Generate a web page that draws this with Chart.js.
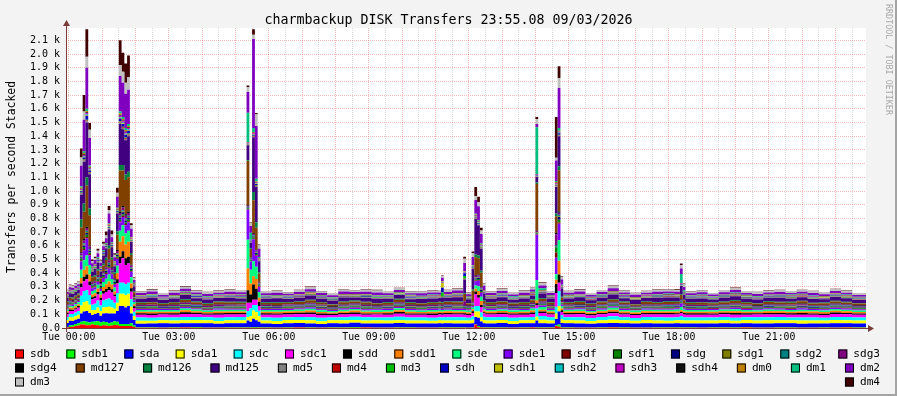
<!DOCTYPE html>
<html>
<head>
<meta charset="utf-8">
<script src="https://cdn.jsdelivr.net/npm/chart.js"></script>
<style>
  html, body { margin: 0; padding: 0; background: #f3f3f3; }
  #wrap { width: 897px; height: 396px; }
</style>
</head>
<body>
<div id="wrap"><canvas id="c" width="897" height="396"></canvas></div>
<script>
// time of each sample, minutes after Tue 00:00 (graph starts Mon 23:55)
const times = [-5,0,5,10,15,20,25,30,35,40,45,50,55,60,65,70,75,80,85,90,95,100,105,110,115,
  120,140,160,180,200,220,240,260,280,300,
  320,325,330,335,340,
  345,365,385,405,425,445,465,485,505,525,545,565,585,605,625,645,665,
  670,675,690,710,715,
  725,730,735,740,745,
  750,770,790,810,830,
  840,845,860,875,880,885,
  890,910,930,950,970,990,1010,1030,1050,1070,1090,
  1100,1105,
  1110,1130,1150,1170,1190,1210,1230,1250,1270,1290,1310,1330,1350,1370,1390,1410,1435];

// transfers per second, one array per device (stack order bottom -> top)
const sdb   = [3,8,10,14,18,25,25,20,20,25,22,20,15,20,18,15,18,22,20,15,15,15,15,15,8, 2,1,2,2,3,2,1,2,2,2, 2,2,2,2,2, 2,1,2,3,2,2,1,2,2,3,2,1,2,2,2,1,2, 2,2,1,2,2, 2,25,5,3,2, 2,2,1,2,3, 2,2,2,15,10,2, 2,1,2,2,3,2,2,1,2,2,2, 2,2, 2,2,1,2,2,3,2,1,2,2,2,1,2,2,3,2,2];
const sdb1  = [4,10,12,15,16,20,25,25,20,20,25,30,25,25,25,20,22,28,25,15,15,15,15,20,10, 3,4,2,3,3,5,3,2,4,3, 3,3,5,5,4, 3,2,4,3,3,2,4,3,5,3,2,3,4,3,2,3,4, 3,3,4,3,2, 3,5,10,5,3, 3,4,2,3,3, 3,3,3,5,15,3, 4,3,2,3,5,3,2,3,4,3,3, 3,3, 3,2,4,3,3,5,2,3,3,4,2,3,3,2,4,3,3];
const sda   = [30,35,30,32,34,60,70,80,70,50,55,60,50,60,65,70,65,55,80,130,130,120,130,70,40, 26,28,30,27,29,28,31,27,28,30, 50,40,60,50,40, 28,27,29,30,28,26,29,28,31,27,28,29,30,27,28,29,28, 28,29,27,28,28, 30,50,60,40,30, 28,30,27,29,28, 50,30,28,45,96,32, 29,28,27,30,28,29,28,31,27,28,29, 28,28, 28,29,27,30,28,27,29,28,30,28,27,29,28,30,27,28,29];
const sda1  = [22,25,24,26,28,60,70,70,60,35,30,40,35,45,45,50,45,35,60,90,90,90,90,50,30, 22,20,23,22,21,24,22,20,23,22, 25,40,60,60,40, 22,21,23,22,24,20,22,23,21,22,24,22,21,23,22,20,23, 22,21,23,22,22, 25,40,45,30,24, 22,23,21,22,24, 28,25,22,40,40,26, 22,23,21,22,24,22,21,23,22,20,22, 24,22, 22,21,23,22,20,23,22,24,21,22,23,21,22,24,22,21,22];
const sdc   = [22,25,26,26,28,70,80,80,70,40,45,50,40,50,55,60,55,45,70,80,80,80,80,55,30, 24,22,20,23,25,22,21,24,22,23, 45,60,40,50,40, 22,24,21,23,22,25,20,22,24,23,21,22,25,22,23,21,22, 22,23,24,22,21, 25,40,40,35,24, 23,22,24,21,22, 60,28,23,50,110,30, 22,24,21,23,25,22,20,22,23,24,22, 30,24, 22,23,21,24,22,20,23,22,25,21,22,23,20,22,24,22,23];
const sdc1  = [20,22,22,22,24,60,70,80,70,40,40,45,40,50,55,60,55,45,70,140,180,140,140,55,28, 20,19,21,20,22,20,18,21,20,19, 60,40,40,40,35, 20,21,19,20,22,20,19,21,20,18,21,20,22,19,20,21,20, 20,21,19,20,20, 25,86,60,40,22, 20,19,21,20,22, 25,22,20,100,60,24, 20,21,19,20,22,20,21,19,20,22,20, 20,20, 20,19,21,20,22,19,20,21,18,20,21,20,19,22,20,21,20];
const sdd   = [10,10,9,10,12,30,35,35,30,15,15,18,15,20,22,25,22,15,30,50,50,50,50,25,12, 10,11,9,10,12,10,9,11,10,10, 90,60,110,80,30, 10,9,11,10,12,10,9,10,11,10,8,10,12,10,9,11,10, 10,11,10,10,9, 12,20,20,15,10, 10,11,9,10,12, 12,10,10,67,60,12, 10,9,11,10,12,10,9,10,11,10,10, 10,10, 10,11,9,10,12,10,9,11,10,10,12,9,10,11,10,9,10];
const sdd1  = [12,14,14,14,14,40,50,60,50,20,22,25,22,30,35,40,35,22,45,110,110,100,110,35,16, 12,13,11,12,14,12,11,13,12,12, 160,80,60,70,30, 12,13,11,12,14,12,10,12,13,12,11,12,14,12,11,13,12, 12,12,13,12,11, 14,20,30,30,13, 12,13,11,12,14, 20,14,12,30,100,14, 12,13,11,12,14,12,11,13,12,12,13, 12,12, 12,11,13,12,14,12,11,12,13,12,11,14,12,13,12,11,12];
const sde   = [12,14,13,14,14,60,70,80,70,25,25,28,25,35,40,50,40,28,55,80,80,80,80,45,16, 12,11,13,12,14,12,11,13,12,12, 210,100,110,90,40, 12,13,11,12,14,12,11,13,12,10,12,13,14,12,11,12,13, 12,12,11,12,13, 14,25,35,30,13, 12,11,13,12,14, 150,20,12,40,150,16, 12,13,11,12,14,12,13,11,12,12,14, 25,14, 12,13,11,12,14,12,11,13,12,12,14,11,12,13,12,11,12];
const sde1  = [8,9,9,9,10,60,70,123,70,20,18,22,18,30,35,45,35,20,50,60,60,60,60,40,12, 8,9,7,8,10,8,7,9,8,8, 220,60,160,80,40, 8,7,9,8,10,8,7,8,9,8,7,9,10,8,7,9,8, 8,9,8,8,7, 10,30,40,30,9, 8,9,7,8,10, 330,10,8,120,120,10, 8,9,7,8,10,8,7,9,8,8,9, 25,10, 8,7,9,8,10,8,7,9,8,8,10,7,8,9,8,7,8];
const sdf   = [4,4,4,4,4,10,12,12,10,6,6,6,6,6,6,8,6,6,8,10,10,10,10,6,5, 4,5,3,4,4,5,4,3,4,4, 4,4,5,5,5, 4,3,5,4,4,5,3,4,4,5,4,3,4,5,4,4,3, 4,4,5,4,4, 4,5,5,5,4, 4,3,5,4,4, 4,4,4,40,10,4, 4,5,3,4,4,5,4,3,4,4,5, 4,4, 4,3,5,4,4,5,3,4,4,5,4,3,4,4,5,4,4];
const sdf1  = [5,5,5,5,5,12,14,15,12,8,8,8,8,8,8,10,8,8,10,10,10,10,10,8,6, 5,6,4,5,5,6,4,5,5,6, 5,5,8,8,6, 5,4,6,5,5,6,4,5,5,6,5,4,6,5,5,4,6, 5,5,4,5,6, 5,8,8,8,5, 5,6,4,5,5, 5,5,5,35,20,5, 5,4,6,5,5,6,4,5,5,6,5, 5,5, 5,6,4,5,5,6,4,5,6,5,4,5,6,5,4,5,5];
const sdg   = [5,5,5,5,5,10,12,14,12,8,8,8,8,8,8,10,8,8,10,15,15,15,15,8,6, 5,4,6,5,5,4,6,5,5,4, 5,5,8,8,6, 5,6,4,5,5,6,4,5,6,5,4,5,5,6,4,5,5, 5,6,5,5,4, 5,8,8,8,5, 5,4,6,5,5, 5,5,5,8,20,5, 5,6,4,5,5,6,4,5,5,6,4, 5,5, 5,4,6,5,5,4,6,5,4,5,6,5,4,5,6,5,5];
const sdg1  = [3,3,3,3,3,5,6,6,5,4,4,4,4,4,4,5,4,4,5,5,5,5,5,4,3, 3,3,2,3,4,3,3,2,3,3, 3,3,4,4,3, 3,2,3,4,3,3,2,3,3,4,3,2,3,3,4,3,3, 3,3,3,3,2, 3,4,4,4,3, 3,3,2,3,4, 3,3,3,4,5,3, 3,2,3,4,3,3,2,3,3,4,3, 3,3, 3,3,2,3,4,3,3,2,3,3,4,3,2,3,3,4,3];
const sdg2  = [4,4,4,4,4,8,10,10,8,6,6,6,6,6,6,8,6,6,8,10,10,10,10,6,5, 4,5,3,4,4,5,3,4,5,4, 4,4,5,5,4, 4,3,5,4,4,5,3,4,4,5,4,3,5,4,4,3,4, 4,4,5,4,4, 4,5,5,5,4, 4,5,3,4,4, 4,4,4,6,10,4, 4,3,5,4,4,5,3,4,4,5,4, 4,4, 4,5,3,4,4,5,3,4,4,5,3,4,5,4,4,3,4];
const sdg3  = [7,8,8,8,8,15,20,20,18,12,12,12,12,14,14,16,14,12,16,20,20,20,20,14,9, 7,8,6,7,9,7,6,8,7,7, 7,7,10,10,8, 7,6,8,7,9,7,6,7,8,7,6,8,9,7,6,8,7, 7,7,8,35,7, 7,10,10,10,8, 7,8,6,7,9, 7,8,7,80,15,8, 7,6,8,7,9,7,6,8,7,7,8, 7,7, 7,8,6,7,9,7,6,8,7,7,9,6,7,8,7,6,7];
const sdg4  = [4,4,4,4,4,8,10,10,8,6,6,6,6,6,6,8,6,6,8,10,10,10,10,6,5, 4,3,5,4,4,3,5,4,4,3, 4,4,5,5,4, 4,5,3,4,4,3,5,4,4,3,5,4,4,3,5,4,4, 4,4,3,4,5, 4,5,5,5,4, 4,3,5,4,4, 4,4,4,10,10,4, 4,5,3,4,4,3,5,4,4,3,4, 4,4, 4,3,5,4,4,3,5,4,4,3,5,4,4,3,4,5,4];
const md127 = [14,15,14,16,14,180,200,300,220,30,28,30,28,40,50,80,55,30,110,300,260,250,250,70,20, 12,14,10,13,16,12,11,15,12,13, 322,60,240,160,60, 12,15,11,13,16,12,10,14,12,15,11,13,17,12,11,14,12, 12,13,15,50,12, 80,130,120,100,14, 12,15,11,13,16, 340,15,12,120,300,20, 12,14,11,13,16,12,10,15,12,14,13, 30,25, 12,14,10,13,15,12,11,14,12,13,16,11,12,14,12,11,13];
const md126 = [5,6,6,6,6,60,60,60,50,10,10,10,10,12,15,20,15,10,25,40,40,40,40,15,7, 5,4,6,5,5,6,4,5,5,6, 5,5,60,40,10, 5,6,4,5,5,6,4,5,6,5,4,5,6,5,4,5,5, 5,5,6,5,4, 10,20,20,15,5, 5,4,6,5,5, 10,5,5,20,30,6, 5,6,4,5,5,6,4,5,5,6,5, 5,5, 5,4,6,5,5,6,4,5,5,6,4,5,6,5,5,4,5];
const md125 = [27,28,27,28,26,180,304,400,250,30,45,50,40,60,70,120,75,45,130,300,260,250,260,80,35, 26,30,22,27,32,24,28,26,30,25, 110,40,400,260,80, 25,29,22,27,31,24,26,30,23,28,32,25,27,22,30,26,28, 35,27,30,100,26, 150,260,220,160,50, 25,30,23,27,29, 40,35,26,195,219,60, 26,30,23,27,32,24,28,25,30,26,27, 60,35, 25,28,22,27,30,24,27,25,29,23,26,28,24,27,25,23,26];
const md5   = [4,4,4,4,4,8,10,10,8,5,5,5,5,5,5,6,5,5,6,10,10,10,10,5,4, 4,5,3,4,4,5,3,4,4,5, 4,4,5,5,4, 4,3,5,4,4,3,5,4,4,5,3,4,4,5,3,4,4, 4,4,5,4,4, 4,5,5,5,4, 4,5,3,4,4, 4,4,4,5,5,4, 4,3,5,4,4,5,3,4,4,5,4, 4,4, 4,5,3,4,4,5,3,4,4,5,3,4,4,5,4,3,4];
const md4   = [2,2,2,2,2,4,5,5,4,3,3,3,3,3,3,3,3,3,3,5,5,5,5,3,2, 2,2,1,2,3,2,2,1,2,2, 2,2,3,3,2, 2,1,2,3,2,2,1,2,2,3,2,2,1,2,3,2,2, 2,2,2,2,1, 2,3,3,3,2, 2,2,1,2,3, 2,2,2,3,3,2, 2,1,2,3,2,2,1,2,2,3,2, 2,2, 2,2,1,2,3,2,2,1,2,2,3,2,1,2,2,3,2];
const md3   = [2,2,2,2,2,4,5,5,4,3,3,3,3,3,3,3,3,3,3,5,5,5,5,3,2, 2,1,2,2,3,2,1,2,2,3, 2,2,3,3,2, 2,2,1,2,3,2,2,1,2,2,3,2,1,2,2,3,2, 30,2,2,20,2, 2,3,3,3,2, 2,1,2,2,3, 2,2,2,3,3,2, 2,2,1,2,3,2,2,1,2,2,3, 2,2, 2,1,2,2,3,2,1,2,2,3,2,2,1,2,3,2,2];
const sdh   = [3,3,3,3,3,10,12,30,10,5,5,5,5,5,5,6,5,5,6,20,20,20,20,5,4, 3,4,2,3,3,4,2,3,3,4, 3,3,8,8,4, 3,2,4,3,3,4,2,3,3,4,3,2,3,4,3,3,2, 35,3,4,20,3, 3,5,5,5,3, 3,4,2,3,3, 3,3,3,5,10,3, 3,2,4,3,3,4,2,3,3,4,3, 3,3, 3,4,2,3,3,4,2,3,3,4,3,2,3,4,3,2,3];
const sdh1  = [2,2,2,2,2,4,5,5,4,3,3,3,3,3,3,3,3,3,3,5,5,5,5,3,2, 2,2,3,2,1,2,2,3,2,2, 2,2,3,3,2, 2,3,2,1,2,2,3,2,2,1,2,3,2,2,1,2,2, 35,2,3,2,2, 2,3,3,3,2, 2,2,3,2,1, 2,2,2,3,3,2, 2,3,2,1,2,2,3,2,2,1,2, 2,2, 2,2,3,2,1,2,2,3,2,2,1,2,3,2,2,1,2];
const sdh2  = [2,2,2,2,2,4,5,5,4,3,3,3,3,3,3,3,3,3,3,5,5,5,5,3,2, 2,3,2,2,1,2,3,2,2,2, 2,2,3,3,2, 2,2,3,2,1,2,2,3,2,2,1,2,2,3,2,2,1, 2,2,3,2,2, 2,3,3,3,2, 2,3,2,2,1, 2,2,2,3,3,2, 2,2,3,2,1,2,2,3,2,2,2, 2,2, 2,3,2,2,1,2,3,2,2,2,1,3,2,2,2,1,2];
const sdh3  = [3,3,3,3,3,6,8,10,8,4,4,4,4,4,4,5,4,4,5,10,10,10,10,4,3, 3,2,4,3,3,2,4,3,3,4, 3,3,5,5,3, 3,4,2,3,3,4,2,3,3,2,4,3,3,4,2,3,3, 3,3,2,3,4, 3,4,4,4,3, 3,2,4,3,3, 3,3,3,5,5,3, 3,4,2,3,3,4,2,3,3,2,3, 3,3, 3,2,4,3,3,2,4,3,3,4,2,3,3,4,2,3,3];
const sdh4  = [2,2,2,2,2,4,5,5,4,3,3,3,3,3,3,3,3,3,3,5,5,5,5,3,2, 2,2,1,2,3,2,2,1,2,2, 2,2,3,3,2, 2,1,2,2,3,2,1,2,2,3,2,2,1,2,2,3,2, 2,2,2,2,1, 2,3,3,3,2, 2,2,1,2,3, 2,2,2,3,3,2, 2,1,2,2,3,2,1,2,2,3,2, 2,2, 2,2,1,2,3,2,2,1,2,2,3,2,1,2,2,3,2];
const dm0   = [3,3,3,3,3,8,10,10,8,4,4,4,4,4,4,5,4,4,5,10,10,10,10,4,3, 3,4,2,3,3,4,2,3,3,3, 3,3,5,5,3, 3,2,4,3,3,2,4,3,3,4,2,3,3,4,2,3,3, 3,3,4,3,2, 3,4,4,4,3, 3,4,2,3,3, 3,3,3,5,5,3, 3,2,4,3,3,2,4,3,3,4,3, 3,3, 3,4,2,3,3,4,2,3,3,3,4,2,3,3,4,2,3];
const dm1   = [3,3,3,3,3,10,12,15,10,5,5,5,5,5,5,6,5,5,6,15,15,15,15,5,4, 3,3,4,2,3,3,4,3,2,3, 215,50,30,20,8, 3,4,2,3,3,4,3,2,3,4,3,3,2,4,3,3,3, 3,3,4,3,3, 3,5,5,5,3, 3,3,4,2,3, 340,15,3,8,20,5, 3,4,2,3,3,4,3,2,3,4,3, 66,10, 3,3,4,2,3,3,4,3,2,3,3,4,3,2,3,4,3];
const dm2   = [16,18,17,18,17,150,230,300,200,25,28,30,25,30,35,72,35,28,80,260,250,250,250,60,20, 15,18,12,16,19,14,16,13,18,15, 150,50,650,385,60, 15,17,12,16,19,14,15,18,13,16,20,14,16,12,18,15,16, 25,16,18,60,14, 60,100,100,70,30, 15,18,13,16,17, 25,20,15,150,292,38, 15,17,12,16,19,14,16,13,18,15,16, 40,25, 14,17,12,16,18,13,16,14,17,12,15,17,13,16,14,12,15];
const dm3   = [12,14,13,14,14,60,60,80,60,15,15,18,15,18,20,25,20,18,30,80,80,80,90,25,15, 12,14,10,13,15,11,13,12,14,12, 36,20,30,85,25, 12,14,10,13,15,12,11,14,12,13,15,11,13,10,14,12,13, 12,13,12,30,11, 30,30,30,25,15, 12,14,11,13,14, 35,20,12,20,73,20, 12,14,10,13,15,12,13,11,14,12,13, 25,20, 12,13,10,12,14,11,13,12,14,10,12,13,11,13,12,10,12];
const dm4   = [5,6,5,5,6,65,120,200,50,12,10,15,8,15,30,30,30,12,35,180,140,140,160,15,6, 3,4,2,3,5,3,2,4,3,3, 12,5,40,10,5, 3,4,2,3,5,3,2,3,4,3,5,2,3,4,3,3,2, 5,3,4,15,3, 10,66,40,20,4, 3,4,2,3,4, 15,6,3,297,85,6, 3,4,2,3,5,3,2,4,3,3,4, 10,5, 3,4,2,3,4,3,2,3,4,2,3,4,2,3,3,2,3];

const seriesNames  = ['sdb','sdb1','sda','sda1','sdc','sdc1','sdd','sdd1','sde','sde1','sdf','sdf1','sdg','sdg1','sdg2','sdg3',
                      'sdg4','md127','md126','md125','md5','md4','md3','sdh','sdh1','sdh2','sdh3','sdh4','dm0','dm1','dm2',
                      'dm3','dm4'];
const seriesValues = [sdb,sdb1,sda,sda1,sdc,sdc1,sdd,sdd1,sde,sde1,sdf,sdf1,sdg,sdg1,sdg2,sdg3,
                      sdg4,md127,md126,md125,md5,md4,md3,sdh,sdh1,sdh2,sdh3,sdh4,dm0,dm1,dm2,dm3,dm4];

// axis ticks
const yTicks      = [0,100,200,300,400,500,600,700,800,900,1000,1100,1200,1300,1400,1500,1600,1700,1800,1900,2000,2100];
const yTickLabels = ['0.0','0.1 k','0.2 k','0.3 k','0.4 k','0.5 k','0.6 k','0.7 k','0.8 k','0.9 k','1.0 k',
                     '1.1 k','1.2 k','1.3 k','1.4 k','1.5 k','1.6 k','1.7 k','1.8 k','1.9 k','2.0 k','2.1 k'];
const labelMinutes = [0,180,360,540,720,900,1080,1260];
const hourLabels   = ['Tue 00:00','Tue 03:00','Tue 06:00','Tue 09:00','Tue 12:00','Tue 15:00','Tue 18:00','Tue 21:00'];

const palette = ['#ff0000','#00ff00','#0000ff','#ffff00','#00ffff','#ff00ff','#000000','#ff8000','#00ff80','#8000ff',
                 '#800000','#008000','#000080','#808000','#008080','#800080','#000000','#804000','#008040','#400080',
                 '#808080','#c00000','#00c000','#0000c0','#c0c000','#00c0c0','#c000c0','#101010','#c08000','#00c080',
                 '#8000c0','#c0c0c0','#400000'];

const MONO = "'DejaVu Sans Mono', monospace";
const PINK = 'rgba(222,48,48,0.33)';
const GREY = 'rgba(143,143,143,0.35)';
const AXIS = '#7a3b3b';

seriesValues.forEach((a, k) => { if (a.length !== times.length) console.warn(seriesNames[k], a.length); });

const rrdFrame = {
  id: 'rrdFrame',
  beforeDraw(chart) {
    const { ctx, chartArea: a } = chart;
    ctx.save();
    ctx.fillStyle = '#f3f3f3';
    ctx.fillRect(0, 0, chart.width, chart.height);
    ctx.fillStyle = '#fff';
    ctx.fillRect(a.left, a.top, a.right - a.left, a.bottom - a.top);
    ctx.fillStyle = '#a4a4a4';
    ctx.fillRect(0, chart.height - 2, chart.width, 2);
    ctx.fillRect(chart.width - 2, 0, 2, chart.height);
    ctx.restore();
  },
  afterDatasetsDraw(chart) {
    const { ctx, chartArea: a } = chart;
    ctx.save();
    ctx.strokeStyle = AXIS; ctx.fillStyle = AXIS; ctx.lineWidth = 1;
    ctx.beginPath();
    ctx.moveTo(a.left - 4, a.bottom + 0.5); ctx.lineTo(a.right + 3, a.bottom + 0.5);
    ctx.moveTo(a.left + 0.5, a.bottom + 4); ctx.lineTo(a.left + 0.5, a.top - 2);
    ctx.stroke();
    ctx.beginPath();
    ctx.moveTo(a.right + 2, a.bottom - 3); ctx.lineTo(a.right + 8, a.bottom + 0.5); ctx.lineTo(a.right + 2, a.bottom + 4);
    ctx.closePath(); ctx.fill();
    ctx.beginPath();
    ctx.moveTo(a.left - 3, a.top - 2); ctx.lineTo(a.left + 0.5, a.top - 8); ctx.lineTo(a.left + 4, a.top - 2);
    ctx.closePath(); ctx.fill();
    ctx.restore();
  },
  afterDraw(chart) {
    const ctx = chart.ctx;
    const ds = chart.data.datasets;
    ctx.save();
    ctx.fillStyle = '#000';
    ctx.textAlign = 'center';
    ctx.textBaseline = 'alphabetic';
    ctx.font = '13.3px ' + MONO;
    ctx.fillText('charmbackup DISK Transfers 23:55.08 09/03/2026', 448.5, 24);

    ctx.save();
    ctx.translate(12, 177);
    ctx.rotate(-Math.PI / 2);
    ctx.textBaseline = 'middle';
    ctx.font = '11.4px ' + MONO;
    ctx.fillText('Transfers per second Stacked', 0, 0);
    ctx.restore();

    ctx.save();
    ctx.translate(888, 4);
    ctx.rotate(Math.PI / 2);
    ctx.textAlign = 'left';
    ctx.textBaseline = 'middle';
    ctx.fillStyle = '#a9a9a9';
    ctx.font = '8.4px ' + MONO;
    ctx.fillText('RRDTOOL / TOBI OETIKER', 0, 0);
    ctx.restore();

    // justified legend, three lines like rrdtool
    ctx.font = '11.1px ' + MONO;
    ctx.textAlign = 'left';
    ctx.textBaseline = 'middle';
    const rows = [[0, 16], [16, 31], [31, 33]];
    const rowY = [354, 368, 382];
    const x0 = 15, x1 = 880;
    rows.forEach(([s, e], r) => {
      const items = ds.slice(s, e);
      const w = items.map(d => 15 + ctx.measureText(d.label).width);
      const total = w.reduce((p, q) => p + q, 0);
      const gap = items.length > 1 ? (x1 - x0 - total) / (items.length - 1) : 0;
      let x = x0;
      items.forEach((d, i) => {
        const y = rowY[r];
        ctx.fillStyle = d.backgroundColor;
        ctx.fillRect(x, y - 4.5, 9, 9);
        ctx.strokeStyle = '#000';
        ctx.lineWidth = 1;
        ctx.strokeRect(x + 0.5, y - 4, 8, 8);
        ctx.fillStyle = '#000';
        ctx.fillText(d.label, x + 15, y);
        x += w[i] + gap;
      });
    });
    ctx.restore();
  }
};

new Chart(document.getElementById('c'), {
  type: 'line',
  data: {
    datasets: seriesNames.map((name, k) => ({
      label: name,
      data: times.map((t, i) => ({ x: t, y: seriesValues[k][i] })),
      backgroundColor: palette[k],
      borderColor: 'rgba(0,0,0,0)',
      borderWidth: 0,
      pointRadius: 0,
      stepped: true,
      fill: k === 0 ? 'origin' : '-1'
    }))
  },
  options: {
    responsive: false,
    animation: false,
    devicePixelRatio: 1,
    layout: { padding: { left: 0, top: 28, right: 31, bottom: 48 } },
    plugins: { legend: { display: false }, tooltip: { enabled: false } },
    scales: {
      x: {
        type: 'linear', min: -5, max: 1435,
        afterFit: s => { s.height = 20; },
        afterBuildTicks: s => {
          const t = [];
          for (let m = 0; m < 1435; m += 30) t.push({ value: m });
          s.ticks = t;
        },
        grid: { color: c => (c.tick && c.tick.value % 60 === 0) ? PINK : GREY, drawTicks: false },
        border: { display: false, dash: [1, 1] },
        ticks: {
          autoSkip: false, maxRotation: 0, padding: 4, color: '#000',
          font: { family: MONO, size: 9.8 },
          callback: v => { const i = labelMinutes.indexOf(v); return i < 0 ? '' : hourLabels[i]; }
        }
      },
      y: {
        type: 'linear', stacked: true, min: 0, max: 2190,
        afterFit: s => { s.width = 66; },
        afterBuildTicks: s => { s.ticks = yTicks.map(v => ({ value: v })); },
        grid: { color: PINK, drawTicks: false },
        border: { display: false, dash: [1, 1] },
        ticks: {
          autoSkip: false, padding: 6, color: '#000',
          font: { family: MONO, size: 10 },
          callback: v => yTickLabels[yTicks.indexOf(v)]
        }
      }
    }
  },
  plugins: [rrdFrame]
});
</script>
</body>
</html>
